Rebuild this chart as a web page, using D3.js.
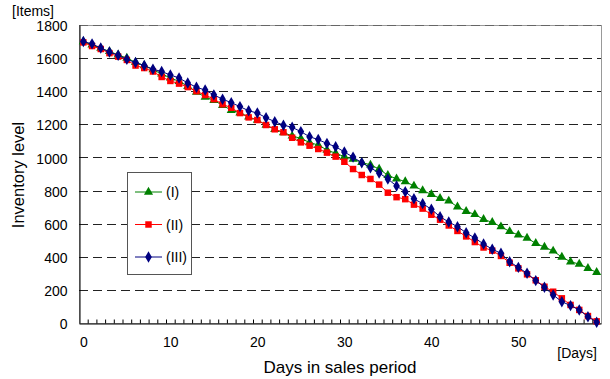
<!DOCTYPE html>
<html>
<head>
<meta charset="utf-8">
<script src="https://cdn.jsdelivr.net/npm/d3@7"></script>
<style>
  body { margin: 0; background: #fff; }
  text { font-family: "Liberation Sans", Arial, sans-serif; fill: #000; }
</style>
</head>
<body>
<svg id="chart"></svg>
<script>
// inventory level per day, day index = position in array (0..59)
const seriesI = [1700, 1680, 1660, 1640, 1620, 1600, 1575, 1555, 1530, 1505,
  1480, 1460, 1430, 1395, 1365, 1345, 1315, 1285, 1270, 1245,
  1225, 1195, 1170, 1150, 1130, 1115, 1090, 1075, 1045, 1025,
  1005, 990, 970, 955, 930, 892, 871, 854, 828, 800,
  777, 753, 737, 702, 675, 656, 626, 608, 582, 553,
  532, 513, 481, 459, 435, 398, 370, 356, 330, 306];

const seriesII = [1695, 1673, 1655, 1630, 1609, 1589, 1555, 1540, 1519, 1486,
  1462, 1446, 1425, 1400, 1377, 1352, 1321, 1300, 1268, 1242,
  1226, 1196, 1170, 1152, 1119, 1091, 1071, 1051, 1029, 1005,
  974, 930, 894, 870, 836, 787, 760, 748, 715, 691,
  654, 624, 589, 556, 523, 489, 456, 437, 405, 364,
  330, 294, 258, 219, 189, 149, 109, 79, 42, 10];

const seriesIII = [1700, 1686, 1661, 1637, 1617, 1593, 1573, 1555, 1533, 1519,
  1498, 1480, 1450, 1424, 1407, 1378, 1352, 1331, 1307, 1282,
  1268, 1240, 1216, 1195, 1182, 1156, 1125, 1108, 1084, 1065,
  1033, 1002, 968, 938, 906, 870, 827, 793, 750, 721,
  687, 642, 610, 582, 545, 513, 477, 446, 421, 370,
  336, 300, 256, 216, 169, 129, 105, 79, 38, 5];

const seriesNames = ["(I)", "(II)", "(III)"];
const xTickLabels = [0, 10, 20, 30, 40, 50];
const yTicks = [0, 200, 400, 600, 800, 1000, 1200, 1400, 1600, 1800];

const width = 610;
const height = 379;
const plotLeft = 79, plotRight = 601, plotTop = 25, plotBottom = 323;
const nDays = seriesI.length;

const svg = d3.select("#chart")
  .attr("width", width)
  .attr("height", height)
  .attr("font-size", 14);

const xScale = d3.scaleLinear([-0.5, nDays - 0.5], [plotLeft, plotRight]);
const yScale = d3.scaleLinear([0, 1800], [plotBottom, plotTop]);

// plot border (grey)
svg.append("rect")
  .attr("x", plotLeft + 0.5)
  .attr("y", plotTop + 0.5)
  .attr("width", plotRight - plotLeft)
  .attr("height", plotBottom - plotTop)
  .attr("fill", "none")
  .attr("stroke", "#999");

// dashed grid lines
svg.append("g")
  .selectAll("line")
  .data(yTicks.filter(d => d > 0))
  .join("line")
  .attr("x1", plotLeft)
  .attr("x2", plotRight)
  .attr("y1", d => Math.round(yScale(d)) + 0.5)
  .attr("y2", d => Math.round(yScale(d)) + 0.5)
  .attr("stroke", d => d === 1800 ? "#666" : "#222")
  .attr("stroke-dasharray", "9,5");

// y axis
const yAxis = svg.append("g")
  .attr("transform", `translate(${plotLeft + 0.5},0)`)
  .call(d3.axisLeft(yScale).tickValues(yTicks).tickFormat(d3.format("d")).tickSize(0).tickPadding(12));
yAxis.select(".domain").attr("stroke", "#000");
yAxis.selectAll("text").attr("font-size", 14).attr("font-family", "Liberation Sans, Arial, sans-serif")
  .attr("dy", "0.4em");

// x axis: labels every 10 days, minor ticks between days
const xAxis = svg.append("g")
  .attr("transform", `translate(0,${plotBottom + 0.5})`)
  .call(d3.axisBottom(xScale).tickValues(xTickLabels).tickSize(0).tickPadding(14));
xAxis.select(".domain").attr("stroke", "#000");
xAxis.selectAll("text").attr("font-size", 14).attr("font-family", "Liberation Sans, Arial, sans-serif");

svg.append("g")
  .attr("transform", `translate(0,${plotBottom + 0.5})`)
  .call(d3.axisBottom(xScale)
    .tickValues(d3.range(1, nDays).map(d => d - 0.5))
    .tickSize(-4)
    .tickFormat(""))
  .call(g => g.select(".domain").remove())
  .selectAll("line").attr("stroke", "#000");

// series
const series = [
  {name: seriesNames[0], values: seriesI, color: "#008000", symbol: d3.symbolTriangle, size: 36},
  {name: seriesNames[1], values: seriesII, color: "#ff0000", symbol: d3.symbolSquare, size: 42},
  {name: seriesNames[2], values: seriesIII, color: "#000080", symbol: d3.symbolDiamond, size: 38}
];

const line = d3.line()
  .x((d, i) => xScale(i))
  .y(d => yScale(d));

series.forEach(s => {
  const g = svg.append("g");
  g.append("path")
    .datum(s.values)
    .attr("fill", "none")
    .attr("stroke", s.color)
    .attr("stroke-width", 1)
    .attr("d", line);
  g.selectAll("path.m")
    .data(s.values)
    .join("path")
    .attr("class", "m")
    .attr("transform", (d, i) => `translate(${xScale(i)},${yScale(d)})`)
    .attr("fill", s.color)
    .attr("d", d3.symbol(s.symbol, s.size));
});

// legend
const legend = svg.append("g");
legend.append("rect")
  .attr("x", 127.5)
  .attr("y", 172.5)
  .attr("width", 64)
  .attr("height", 102)
  .attr("fill", "#fff")
  .attr("stroke", "#555");

series.forEach((s, i) => {
  const ly = 192 + i * 32.5;
  legend.append("line")
    .attr("x1", 135)
    .attr("x2", 162)
    .attr("y1", ly)
    .attr("y2", ly)
    .attr("stroke", s.color);
  legend.append("path")
    .attr("transform", `translate(148.5,${ly})`)
    .attr("fill", s.color)
    .attr("d", d3.symbol(s.symbol, s.size));
  legend.append("text")
    .attr("x", 166)
    .attr("y", ly + 5)
    .text(s.name);
});

// axis titles and units
svg.append("text")
  .attr("x", 12)
  .attr("y", 16)
  .text("[Items]");

svg.append("text")
  .attr("x", 597)
  .attr("y", 358)
  .attr("text-anchor", "end")
  .text("[Days]");

svg.append("text")
  .attr("x", 340)
  .attr("y", 373)
  .attr("text-anchor", "middle")
  .attr("font-size", 17)
  .text("Days in sales period");

svg.append("text")
  .attr("transform", "translate(24,175) rotate(-90)")
  .attr("text-anchor", "middle")
  .attr("font-size", 16.5)
  .text("Inventory level");
</script>
</body>
</html>
